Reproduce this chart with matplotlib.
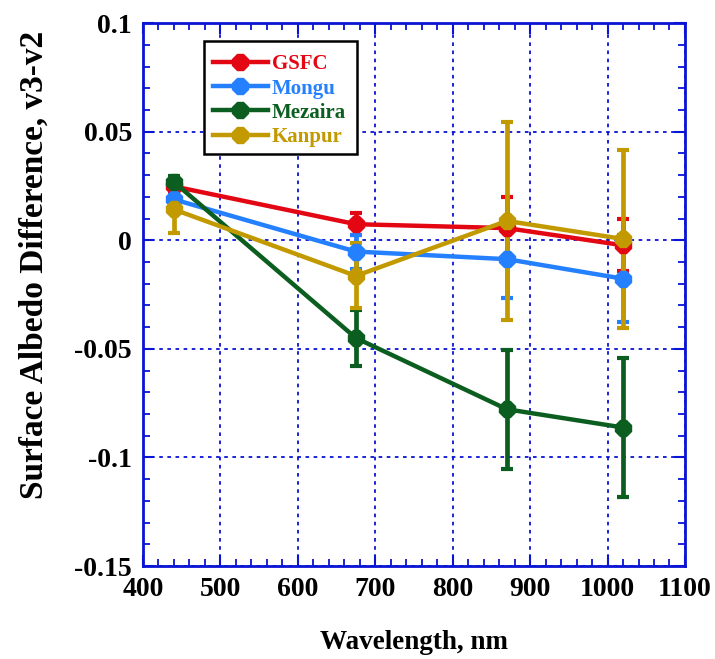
import matplotlib
matplotlib.use("Agg")
import matplotlib.pyplot as plt
from matplotlib.ticker import MultipleLocator
from matplotlib.patches import Rectangle

plt.rcParams['font.family'] = ['Liberation Serif', 'DejaVu Serif']
plt.rcParams['font.weight'] = 'bold'

wavelength = [440, 675, 870, 1020]

series_names = ["GSFC", "Mongu", "Mezaira", "Kanpur"]
series_colors = ["#e30613", "#2580ff", "#0b5e1f", "#c29a00"]

gsfc = [0.0248, 0.0074, 0.0056, -0.0023]
gsfc_err = [0.002, 0.005, 0.0145, 0.012]

mongu = [0.0188, -0.0052, -0.0087, -0.0177]
mongu_err = [0.002, 0.0078, 0.018, 0.020]

mezaira = [0.0268, -0.0450, -0.0778, -0.0862]
mezaira_err = [0.003, 0.0127, 0.0275, 0.0318]

kanpur = [0.0142, -0.0164, 0.0089, 0.0006]
kanpur_err = [0.011, 0.015, 0.0455, 0.041]

values = [gsfc, mongu, mezaira, kanpur]
errors = [gsfc_err, mongu_err, mezaira_err, kanpur_err]

x_ticks = [400, 500, 600, 700, 800, 900, 1000, 1100]
y_ticks = [-0.15, -0.1, -0.05, 0, 0.05, 0.1]
y_tick_labels = ["-0.15", "-0.1", "-0.05", "0", "0.05", "0.1"]

axis_blue = "#0a14d4"

fig = plt.figure(figsize=(7.15, 6.59), dpi=100)
ax = fig.add_axes([0.200, 0.141, 0.758, 0.824])

# error bars first, then lines with markers on top
for i, (v, e, c) in enumerate(zip(values, errors, series_colors)):
    ax.errorbar(wavelength, v, yerr=e, fmt='none', ecolor=c, elinewidth=3.4,
                capsize=4, capthick=3, zorder=3 + i * 0.1)
for i, (name, v, c) in enumerate(zip(series_names, values, series_colors)):
    ax.plot(wavelength, v, color=c, lw=3.2, marker='8', ms=13, mec=c, mfc=c,
            label=name, zorder=4 + i * 0.1)

ax.set_xlim(400, 1100)
ax.set_ylim(-0.15, 0.1)
ax.set_xticks(x_ticks)
ax.set_xticklabels([str(t) for t in x_ticks])
ax.set_yticks(y_ticks)
ax.set_yticklabels(y_tick_labels)
ax.xaxis.set_minor_locator(MultipleLocator(20))
ax.yaxis.set_minor_locator(MultipleLocator(0.01))

ax.grid(True, which='major', color=axis_blue, linestyle=(0, (2, 2.5)), lw=1.3)
ax.set_axisbelow(True)

for sp in ax.spines.values():
    sp.set_color(axis_blue)
    sp.set_linewidth(2)

ax.tick_params(which='both', direction='in', top=True, right=True,
               color=axis_blue, labelsize=20, pad=8)
ax.tick_params(which='major', length=8, width=1.5)
ax.tick_params(which='minor', length=5, width=1.3)
for lab in ax.get_xticklabels() + ax.get_yticklabels():
    lab.set_fontweight('bold')

ax.set_xlabel("Wavelength, nm", fontsize=19.5, fontweight='bold', labelpad=20)
ax.set_ylabel("Surface Albedo Difference, v3-v2", fontsize=24, fontweight='bold')
ax.yaxis.set_label_coords(-0.172, 0.554)

# legend box drawn as a separate rectangle so the entries can sit a bit lower
ax.add_patch(Rectangle((0.1125, 0.7587), 0.2823, 0.2082, transform=ax.transAxes,
                       facecolor='white', edgecolor='black', lw=1.8, zorder=10))
leg = ax.legend(loc='upper left', bbox_to_anchor=(0.1125, 0.9595), fontsize=15,
                frameon=False, handlelength=2.6,
                borderpad=0.45, labelspacing=0.2, handletextpad=0.2,
                borderaxespad=0)
leg.set_zorder(11)
for txt, c in zip(leg.get_texts(), series_colors):
    txt.set_color(c)
    txt.set_fontweight('bold')

fig.savefig("out.png", dpi=100)
